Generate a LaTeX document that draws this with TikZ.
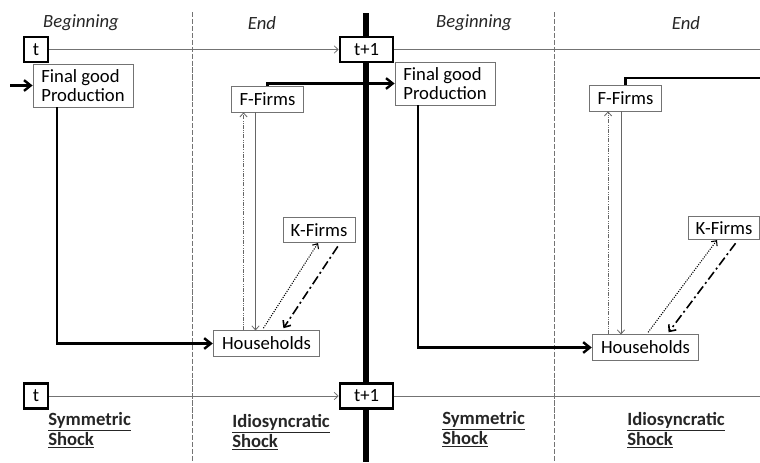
\documentclass[tikz,border=0pt]{standalone}
\usepackage{fontspec}
\setmainfont{Carlito}
\usetikzlibrary{arrows.meta}
\tikzset{
	>={Straight Barb[length=3pt,width=5.5pt]},
	txt/.style={font=\fontsize{14}{14.5}\selectfont},
	agent/.style={txt, draw=black!55, line width=0.6pt, fill=white, inner sep=0pt},
	timebox/.style={txt, draw, line width=1.9pt, fill=white, inner sep=0pt, minimum height=19pt},
	phase/.style={txt, font=\fontsize{14}{14.5}\selectfont\itshape, text=black!85},
	shock/.style={anchor=west, align=left, inner sep=0pt, font=\fontsize{14}{13.5}\selectfont\bfseries, text=black!85},
	divider/.style={draw=black!55, line width=0.6pt, dash pattern=on 4pt off 1.2pt},
	timeline/.style={draw=black!55, line width=0.6pt},
	heavy/.style={line width=1.8pt},
	flow/.style={heavy, -{Straight Barb[length=5pt,width=8pt]}},
	thinflow/.style={draw=black!60, line width=0.6pt, ->},
	backflow/.style={draw=black!60, line width=0.6pt, ->, dash pattern=on 3pt off 1pt on 0.6pt off 1pt on 0.6pt off 1pt},
	dotflow/.style={line width=0.8pt, densely dotted, ->, shorten <=2pt},
	dashflow/.style={line width=1.2pt, dash pattern=on 7pt off 2.5pt on 1.5pt off 2.5pt, -{Straight Barb[length=4pt,width=7pt]}, shorten <=3pt, shorten >=2pt}
}
\begin{document}
\begin{tikzpicture}[x=0.75pt, y=-0.75pt]
	\useasboundingbox (0,0) rectangle (760,462);
	\draw [divider] (192,12) -- (192,462);
	\draw [divider] (554,12) -- (554,462);
	\draw [line width=3.8pt] (366,13) -- (366,462);

	\node [phase] (begA) at (81,23) {Beginning};
	\node [phase] (endA) at (262,23) {End};
	\node [phase] (begB) at (474,23) {Beginning};
	\node [phase] (endB) at (686,23) {End};

	\node [timebox, minimum width=18pt] (tA) at (36,49.5) {t};
	\node [timebox, minimum width=39.75pt] (tB) at (366.5,49.5) {t+1};
	\node [timebox, minimum width=18pt] (tC) at (36,396) {t};
	\node [timebox, minimum width=39.75pt] (tD) at (366.5,396) {t+1};
	\coordinate (topEnd) at (760,49.5);
	\coordinate (botEnd) at (760,396);
	\draw [timeline, ->] (tA) -- (tB);
	\draw [timeline] (tB) -- (topEnd);
	\draw [timeline, ->] (tC) -- (tD);
	\draw [timeline] (tD) -- (botEnd);

	\node [agent, align=left, minimum width=75pt, minimum height=32.25pt] (fgA) at (83,85.5) {Final good\\Production};
	\node [agent, align=left, minimum width=75pt, minimum height=32.25pt] (fgB) at (445,83.5) {Final good\\Production};
	\node [agent, minimum width=54pt, minimum height=19.5pt] (ffA) at (267.5,99) {F-Firms};
	\node [agent, minimum width=54pt, minimum height=19.5pt] (ffB) at (625.5,98) {F-Firms};
	\node [agent, minimum width=54pt, minimum height=19pt] (kfA) at (319,230) {K-Firms};
	\node [agent, minimum width=53pt, minimum height=17.5pt] (kfB) at (724,228) {K-Firms};
	\node [agent, minimum width=80pt, minimum height=19pt] (hhA) at (266.5,343.5) {Households};
	\node [agent, minimum width=80pt, minimum height=19pt] (hhB) at (645.5,347.5) {Households};

	\coordinate (inA) at (10,85.5);
	\coordinate (outB) at (760,78);
	\draw [flow] (inA) -- (fgA);
	\draw [flow] ([xshift=-19.5pt]fgA.south) |- (hhA);
	\draw [flow] (ffA.north) |- (fgB.west);
	\draw [heavy] (ffB.north) |- (outB);
	\draw [flow] ([xshift=-20.25pt]fgB.south) |- (hhB);

	\draw [thinflow] ([xshift=-9pt]ffA.south) -- ([xshift=-9pt]ffA.south |- hhA.north);
	\draw [backflow] ([xshift=-18pt]ffA.south |- hhA.north) -- ([xshift=-18pt]ffA.south);
	\draw [dotflow] ([xshift=-3.4pt]hhA.north) -- ([xshift=-0.75pt]kfA.south);
	\draw [dashflow] ([xshift=15.75pt]kfA.south) -- ([xshift=11.6pt]hhA.north);

	\draw [thinflow] ([xshift=-3.4pt]ffB.south) -- ([xshift=-3.4pt]ffB.south |- hhB.north);
	\draw [backflow] ([xshift=-13.1pt]ffB.south |- hhB.north) -- ([xshift=-13.1pt]ffB.south);
	\draw [dotflow] ([xshift=0.75pt]hhB.north) -- ([xshift=-5.25pt]kfB.south);
	\draw [dashflow] ([xshift=10.5pt]kfB.south) -- ([xshift=16.1pt]hhB.north);

	\node [shock] (symA) at (48,430) {\underline{Symmetric}\\\underline{Shock}};
	\node [shock] (idioA) at (232,432) {\underline{Idiosyncratic}\\\underline{Shock}};
	\node [shock] (symB) at (442,429) {\underline{Symmetric}\\\underline{Shock}};
	\node [shock] (idioB) at (627,430) {\underline{Idiosyncratic}\\\underline{Shock}};
\end{tikzpicture}
\end{document}
